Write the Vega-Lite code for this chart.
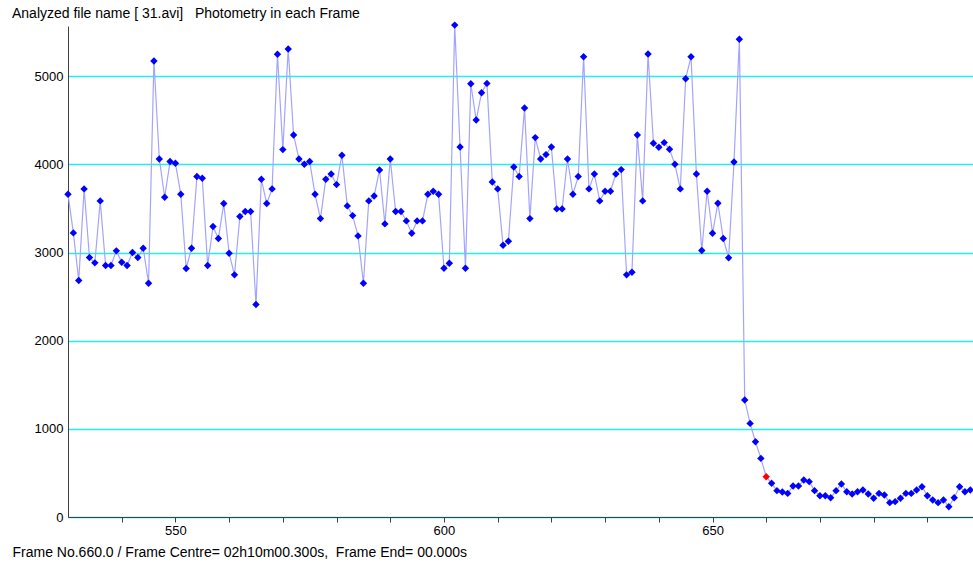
{
  "$schema": "https://vega.github.io/schema/vega-lite/v6.json",
  "width": 905,
  "height": 491,
  "autosize": {"type": "none"},
  "padding": {"left": 68, "top": 26, "right": 0, "bottom": 49},
  "background": "white",
  "config": {
    "view": {"stroke": null},
    "font": "Liberation Sans"
  },
  "title": {
    "text": "Analyzed file name [ 31.avi]\u00a0\u00a0\u00a0Photometry in each Frame",
    "anchor": "start",
    "frame": "group",
    "dx": -56,
    "offset": 0,
    "fontSize": 14,
    "fontWeight": "normal",
    "color": "#000000",
    "font": "Liberation Sans"
  },
  "data": {
    "values": [
      {"f": 530, "v": 3661, "k": "n"}, {"f": 531, "v": 3223, "k": "n"}, {"f": 532, "v": 2683, "k": "n"},
      {"f": 533, "v": 3722, "k": "n"}, {"f": 534, "v": 2943, "k": "n"}, {"f": 535, "v": 2883, "k": "n"},
      {"f": 536, "v": 3586, "k": "n"}, {"f": 537, "v": 2853, "k": "n"}, {"f": 538, "v": 2853, "k": "n"},
      {"f": 539, "v": 3019, "k": "n"}, {"f": 540, "v": 2890, "k": "n"}, {"f": 541, "v": 2853, "k": "n"},
      {"f": 542, "v": 3000, "k": "n"}, {"f": 543, "v": 2943, "k": "n"}, {"f": 544, "v": 3049, "k": "n"},
      {"f": 545, "v": 2652, "k": "n"}, {"f": 546, "v": 5173, "k": "n"}, {"f": 547, "v": 4062, "k": "n"},
      {"f": 548, "v": 3627, "k": "n"}, {"f": 549, "v": 4032, "k": "n"}, {"f": 550, "v": 4013, "k": "n"},
      {"f": 551, "v": 3661, "k": "n"}, {"f": 552, "v": 2819, "k": "n"}, {"f": 553, "v": 3049, "k": "n"},
      {"f": 554, "v": 3862, "k": "n"}, {"f": 555, "v": 3843, "k": "n"}, {"f": 556, "v": 2853, "k": "n"},
      {"f": 557, "v": 3295, "k": "n"}, {"f": 558, "v": 3159, "k": "n"}, {"f": 559, "v": 3556, "k": "n"},
      {"f": 560, "v": 2992, "k": "n"}, {"f": 561, "v": 2747, "k": "n"}, {"f": 562, "v": 3408, "k": "n"},
      {"f": 563, "v": 3465, "k": "n"}, {"f": 564, "v": 3465, "k": "n"}, {"f": 565, "v": 2410, "k": "n"},
      {"f": 566, "v": 3831, "k": "n"}, {"f": 567, "v": 3556, "k": "n"}, {"f": 568, "v": 3722, "k": "n"},
      {"f": 569, "v": 5249, "k": "n"}, {"f": 570, "v": 4168, "k": "n"}, {"f": 571, "v": 5309, "k": "n"},
      {"f": 572, "v": 4334, "k": "n"}, {"f": 573, "v": 4062, "k": "n"}, {"f": 574, "v": 4001, "k": "n"},
      {"f": 575, "v": 4032, "k": "n"}, {"f": 576, "v": 3661, "k": "n"}, {"f": 577, "v": 3385, "k": "n"},
      {"f": 578, "v": 3831, "k": "n"}, {"f": 579, "v": 3892, "k": "n"}, {"f": 580, "v": 3771, "k": "n"},
      {"f": 581, "v": 4104, "k": "n"}, {"f": 582, "v": 3529, "k": "n"}, {"f": 583, "v": 3419, "k": "n"},
      {"f": 584, "v": 3189, "k": "n"}, {"f": 585, "v": 2652, "k": "n"}, {"f": 586, "v": 3586, "k": "n"},
      {"f": 587, "v": 3642, "k": "n"}, {"f": 588, "v": 3937, "k": "n"}, {"f": 589, "v": 3325, "k": "n"},
      {"f": 590, "v": 4062, "k": "n"}, {"f": 591, "v": 3465, "k": "n"}, {"f": 592, "v": 3465, "k": "n"},
      {"f": 593, "v": 3359, "k": "n"}, {"f": 594, "v": 3219, "k": "n"}, {"f": 595, "v": 3359, "k": "n"},
      {"f": 596, "v": 3359, "k": "n"}, {"f": 597, "v": 3661, "k": "n"}, {"f": 598, "v": 3695, "k": "n"},
      {"f": 599, "v": 3661, "k": "n"}, {"f": 600, "v": 2822, "k": "n"}, {"f": 601, "v": 2879, "k": "n"},
      {"f": 602, "v": 5580, "k": "n"}, {"f": 603, "v": 4198, "k": "n"}, {"f": 604, "v": 2822, "k": "n"},
      {"f": 605, "v": 4915, "k": "n"}, {"f": 606, "v": 4503, "k": "n"}, {"f": 607, "v": 4813, "k": "n"},
      {"f": 608, "v": 4919, "k": "n"}, {"f": 609, "v": 3801, "k": "n"}, {"f": 610, "v": 3722, "k": "n"},
      {"f": 611, "v": 3083, "k": "n"}, {"f": 612, "v": 3128, "k": "n"}, {"f": 613, "v": 3971, "k": "n"},
      {"f": 614, "v": 3862, "k": "n"}, {"f": 615, "v": 4640, "k": "n"}, {"f": 616, "v": 3385, "k": "n"},
      {"f": 617, "v": 4304, "k": "n"}, {"f": 618, "v": 4062, "k": "n"}, {"f": 619, "v": 4111, "k": "n"},
      {"f": 620, "v": 4198, "k": "n"}, {"f": 621, "v": 3495, "k": "n"}, {"f": 622, "v": 3495, "k": "n"},
      {"f": 623, "v": 4062, "k": "n"}, {"f": 624, "v": 3661, "k": "n"}, {"f": 625, "v": 3862, "k": "n"},
      {"f": 626, "v": 5222, "k": "n"}, {"f": 627, "v": 3722, "k": "n"}, {"f": 628, "v": 3892, "k": "n"},
      {"f": 629, "v": 3586, "k": "n"}, {"f": 630, "v": 3695, "k": "n"}, {"f": 631, "v": 3695, "k": "n"},
      {"f": 632, "v": 3892, "k": "n"}, {"f": 633, "v": 3941, "k": "n"}, {"f": 634, "v": 2747, "k": "n"},
      {"f": 635, "v": 2777, "k": "n"}, {"f": 636, "v": 4334, "k": "n"}, {"f": 637, "v": 3586, "k": "n"},
      {"f": 638, "v": 5253, "k": "n"}, {"f": 639, "v": 4240, "k": "n"}, {"f": 640, "v": 4194, "k": "n"},
      {"f": 641, "v": 4247, "k": "n"}, {"f": 642, "v": 4172, "k": "n"}, {"f": 643, "v": 4001, "k": "n"},
      {"f": 644, "v": 3722, "k": "n"}, {"f": 645, "v": 4972, "k": "n"}, {"f": 646, "v": 5222, "k": "n"},
      {"f": 647, "v": 3892, "k": "n"}, {"f": 648, "v": 3023, "k": "n"}, {"f": 649, "v": 3695, "k": "n"},
      {"f": 650, "v": 3219, "k": "n"}, {"f": 651, "v": 3559, "k": "n"}, {"f": 652, "v": 3159, "k": "n"},
      {"f": 653, "v": 2940, "k": "n"}, {"f": 654, "v": 4028, "k": "n"}, {"f": 655, "v": 5419, "k": "n"},
      {"f": 656, "v": 1327, "k": "n"}, {"f": 657, "v": 1062, "k": "n"}, {"f": 658, "v": 854, "k": "n"},
      {"f": 659, "v": 665, "k": "n"}, {"f": 660, "v": 457, "k": "r"}, {"f": 661, "v": 382, "k": "n"},
      {"f": 662, "v": 299, "k": "n"}, {"f": 663, "v": 283, "k": "n"}, {"f": 664, "v": 268, "k": "n"},
      {"f": 665, "v": 351, "k": "n"}, {"f": 666, "v": 351, "k": "n"}, {"f": 667, "v": 419, "k": "n"},
      {"f": 668, "v": 401, "k": "n"}, {"f": 669, "v": 299, "k": "n"}, {"f": 670, "v": 242, "k": "n"},
      {"f": 671, "v": 242, "k": "n"}, {"f": 672, "v": 219, "k": "n"}, {"f": 673, "v": 299, "k": "n"},
      {"f": 674, "v": 374, "k": "n"}, {"f": 675, "v": 287, "k": "n"}, {"f": 676, "v": 261, "k": "n"},
      {"f": 677, "v": 287, "k": "n"}, {"f": 678, "v": 306, "k": "n"}, {"f": 679, "v": 261, "k": "n"},
      {"f": 680, "v": 212, "k": "n"}, {"f": 681, "v": 268, "k": "n"}, {"f": 682, "v": 249, "k": "n"},
      {"f": 683, "v": 163, "k": "n"}, {"f": 684, "v": 174, "k": "n"}, {"f": 685, "v": 212, "k": "n"},
      {"f": 686, "v": 268, "k": "n"}, {"f": 687, "v": 268, "k": "n"}, {"f": 688, "v": 306, "k": "n"},
      {"f": 689, "v": 344, "k": "n"}, {"f": 690, "v": 242, "k": "n"}, {"f": 691, "v": 193, "k": "n"},
      {"f": 692, "v": 163, "k": "n"}, {"f": 693, "v": 193, "k": "n"}, {"f": 694, "v": 117, "k": "n"},
      {"f": 695, "v": 219, "k": "n"}, {"f": 696, "v": 344, "k": "n"}, {"f": 697, "v": 287, "k": "n"},
      {"f": 698, "v": 306, "k": "n"}
    ]
  },
  "encoding": {
    "x": {
      "field": "f",
      "type": "quantitative",
      "scale": {"domain": [530, 698.5], "nice": false, "zero": false},
      "axis": {
        "values": [540, 550, 560, 570, 580, 590, 600, 610, 620, 630, 640, 650, 660, 670, 680, 690],
        "labelExpr": "datum.value % 50 === 0 ? datum.label : ''",
        "grid": false,
        "domainColor": "#404040",
        "domainWidth": 1,
        "tickColor": "#404040",
        "tickSize": 5,
        "labelFontSize": 13,
        "labelColor": "#000000",
        "labelPadding": 2,
        "labelFlush": false,
        "title": "Frame No.660.0 / Frame Centre= 02h10m00.300s,\u00a0\u00a0Frame End= 00.000s",
        "titleFontSize": 14,
        "titleFontWeight": "normal",
        "titleColor": "#000000",
        "titleAlign": "left",
        "titleAnchor": "start",
        "titleBaseline": "middle",
        "titleX": -56,
        "titleY": 35
      }
    },
    "y": {
      "field": "v",
      "type": "quantitative",
      "scale": {"domain": [0, 5570], "nice": false},
      "axis": {
        "values": [0, 1000, 2000, 3000, 4000, 5000],
        "format": "d",
        "grid": true,
        "gridColor": "#22eeee",
        "gridWidth": 1.5,
        "ticks": false,
        "domainColor": "#404040",
        "domainWidth": 1,
        "labelFontSize": 13,
        "labelColor": "#000000",
        "labelPadding": 5,
        "title": null
      }
    }
  },
  "layer": [
    {
      "mark": {"type": "line", "color": "#a4a4ff", "strokeWidth": 1.2}
    },
    {
      "mark": {"type": "point", "shape": "diamond", "filled": true, "size": 55, "opacity": 1},
      "encoding": {
        "color": {
          "field": "k",
          "type": "nominal",
          "scale": {"domain": ["n", "r"], "range": ["#0000ff", "#ff0000"]},
          "legend": null
        }
      }
    }
  ]
}
